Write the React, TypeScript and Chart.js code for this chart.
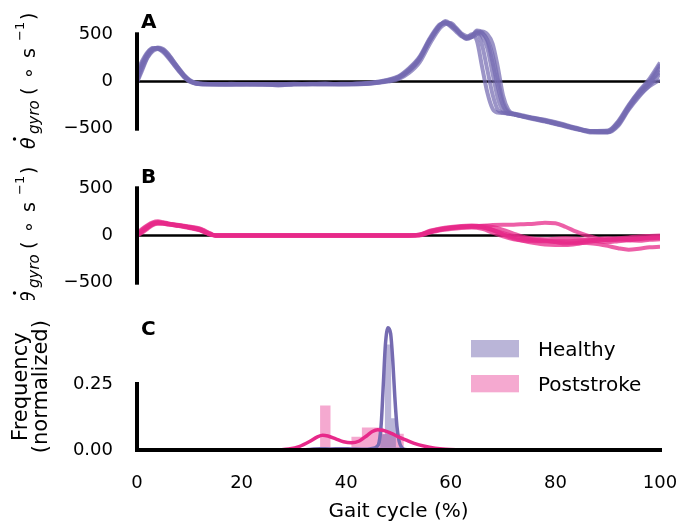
import React, { useEffect, useRef } from 'react';
import { Chart, registerables } from 'chart.js';

Chart.register(...registerables);

const SANS = "'DejaVu Sans', sans-serif";
Chart.defaults.font.family = SANS;
Chart.defaults.color = '#000';

// ---------------- DATA ----------------
// Panel A: healthy gyro traces (deg/s) vs gait cycle (%)
const gaitGridA = [0, 1, 2, 3, 4, 5, 6, 7, 8, 9, 10, 11, 12, 15, 18, 21, 24, 27, 30, 33, 36, 39, 42, 45, 48, 50, 52, 54, 56, 58, 59, 60, 61, 62, 63, 64, 65, 66, 67, 68, 69, 70, 71, 72, 75, 78, 81, 84, 87, 90, 92, 94, 96, 98, 100];
const healthyStride1 = [30, 170, 280, 340, 355, 330, 270, 200, 130, 60, 10, -15, -25, -30, -28, -30, -28, -38, -28, -25, -25, -28, -25, -15, 5, 35, 110, 230, 440, 600, 630, 600, 550, 490, 450, 470, 520, 480, 350, 80, -180, -310, -340, -345, -385, -420, -455, -495, -530, -535, -440, -270, -120, -10, 150];
const healthyStride2 = [0, 140, 260, 330, 360, 345, 290, 215, 140, 70, 20, -10, -22, -28, -35, -26, -30, -30, -26, -30, -28, -25, -22, -10, 20, 55, 140, 260, 460, 610, 620, 580, 530, 480, 470, 500, 430, 150, -120, -290, -330, -335, -340, -350, -380, -410, -450, -500, -525, -520, -420, -250, -100, 30, 200];
const healthyStride3 = [60, 200, 300, 350, 345, 310, 250, 180, 110, 45, 0, -20, -28, -32, -25, -30, -35, -30, -30, -28, -22, -30, -28, -20, 0, 25, 90, 200, 400, 570, 610, 620, 570, 510, 480, 470, 500, 530, 500, 400, 150, -150, -300, -345, -380, -415, -460, -500, -540, -540, -470, -300, -160, -40, 80];
const healthyStride4 = [100, 220, 310, 355, 350, 320, 260, 185, 115, 50, 5, -18, -25, -30, -30, -28, -26, -42, -30, -26, -30, -26, -30, -18, 10, 45, 120, 240, 430, 590, 640, 610, 560, 500, 460, 480, 540, 520, 430, 200, -60, -260, -330, -340, -375, -405, -445, -490, -525, -525, -430, -260, -110, 10, 180];
const healthyStride5 = [-10, 120, 250, 320, 345, 335, 285, 210, 135, 65, 15, -12, -24, -26, -30, -32, -28, -30, -25, -30, -26, -30, -26, -12, 15, 50, 130, 250, 450, 600, 615, 590, 545, 495, 465, 490, 510, 380, 120, -140, -300, -330, -338, -348, -390, -425, -465, -505, -530, -530, -450, -280, -130, -20, 110];
const healthyStride6 = [40, 180, 290, 345, 355, 325, 265, 195, 125, 58, 8, -16, -26, -30, -28, -30, -30, -32, -30, -27, -28, -28, -24, -15, 8, 40, 115, 235, 435, 595, 625, 605, 555, 500, 455, 475, 530, 510, 440, 280, 20, -220, -320, -342, -382, -418, -458, -498, -535, -538, -460, -290, -150, -50, 20];

// Panel B: poststroke gyro traces (deg/s)
const gaitGridB = [0, 1, 2, 3, 4, 5, 6, 8, 10, 12, 13, 14, 15, 20, 30, 40, 48, 52, 54, 56, 58, 60, 62, 64, 66, 68, 70, 72, 74, 76, 78, 80, 82, 84, 86, 88, 90, 92, 94, 96, 98, 100];
const strokeStride1 = [0, 40, 80, 120, 135, 130, 120, 105, 85, 60, 35, 12, 0, 0, 0, 0, 0, 0, 5, 40, 65, 80, 90, 95, 100, 110, 115, 115, 120, 125, 135, 130, 90, 40, 0, -30, -50, -45, -40, -35, -30, -25];
const strokeStride2 = [10, 60, 100, 130, 140, 135, 125, 110, 90, 70, 45, 20, 0, 0, 0, 0, 0, 0, 10, 50, 75, 90, 100, 105, 95, 60, 10, -30, -60, -80, -95, -100, -100, -90, -70, -55, -45, -40, -35, -30, -28, -25];
const strokeStride3 = [-5, 30, 70, 110, 125, 125, 115, 100, 80, 55, 30, 8, 0, 0, 0, 0, 0, 0, 0, 30, 55, 70, 80, 85, 70, 30, -10, -40, -55, -60, -60, -65, -70, -75, -80, -90, -110, -135, -150, -140, -125, -120];
const strokeStride4 = [20, 70, 110, 140, 150, 140, 128, 112, 95, 75, 50, 22, 0, 0, 0, 0, 0, 0, 8, 45, 70, 85, 95, 100, 90, 55, 15, -20, -40, -50, -55, -60, -60, -55, -50, -45, -40, -30, -20, -10, -5, 0];
const strokeStride5 = [0, 50, 90, 125, 138, 132, 122, 106, 88, 62, 38, 15, 0, 0, 0, 0, 0, 0, 3, 35, 60, 78, 88, 92, 85, 60, 25, -5, -30, -45, -55, -70, -85, -80, -60, -40, -30, -35, -50, -55, -45, -40];
const strokeStride6 = [5, 45, 85, 118, 130, 128, 118, 102, 84, 60, 36, 14, 0, 0, 0, 0, 0, 0, 5, 38, 62, 80, 92, 98, 102, 90, 60, 20, -15, -35, -40, -35, -30, -35, -45, -60, -70, -60, -50, -40, -20, -10];

// Panel C: histograms (bin edges + heights) and density curves
const healthyBinEdges = [35, 37, 39, 41, 43, 45, 46.5, 47.4, 48.6, 49.5, 51];
const healthyBinHeights = [0.005, 0.002, 0.005, 0.002, 0.004, 0.01, 0.06, 0.4, 0.12, 0.01];
const strokeBinEdges = [35, 37, 39, 41, 43, 45, 47, 49, 51, 53, 55, 57, 59, 61, 63];
const strokeBinHeights = [0.169, 0.003, 0.004, 0.05, 0.085, 0.085, 0.062, 0.062, 0.003, 0, 0, 0, 0.004, 0.004];
const healthyKdeX = [30, 33, 35, 37, 39, 41, 43, 44, 45, 45.8, 46.3, 46.7, 47.1, 47.5, 48.0, 48.5, 48.9, 49.3, 49.7, 50.1, 50.6, 51.2, 52.5];
const healthyKdeY = [0, 0.002, 0.005, 0.004, 0.005, 0.004, 0.003, 0.003, 0.006, 0.012, 0.03, 0.1, 0.25, 0.4, 0.463, 0.44, 0.34, 0.2, 0.09, 0.035, 0.01, 0.002, 0];
const strokeKdeX = [27, 29, 31, 33, 34.5, 35.5, 36.5, 38, 39.5, 41, 42.5, 44, 45, 46, 47, 48.5, 50, 51.5, 53, 55, 57, 59, 62];
const strokeKdeY = [0, 0.004, 0.013, 0.032, 0.05, 0.056, 0.053, 0.042, 0.031, 0.027, 0.034, 0.055, 0.07, 0.077, 0.075, 0.064, 0.05, 0.037, 0.025, 0.014, 0.007, 0.003, 0];

const gyroTicks = [-500, 0, 500];
const freqTicks = [0, 0.25];
const gaitTicks = [0, 20, 40, 60, 80, 100];
const legendLabels = ['Healthy', 'Poststroke'];

// ---------------- STYLE ----------------
const PURPLE = '#756bb1';
const PURPLE_TRACE = 'rgba(117,107,177,0.72)';
const PURPLE_FILL = 'rgba(117,107,177,0.5)';
const PINK = '#e7298a';
const PINK_TRACE = 'rgba(231,41,138,0.75)';
const PINK_FILL = 'rgba(231,41,138,0.4)';

const toPoints = (xs: number[], ys: number[]) => xs.map((x, i) => ({ x, y: ys[i] }));
const toSteps = (edges: number[], heights: number[]) =>
  edges.map((x, i) => ({ x, y: heights[Math.min(i, heights.length - 1)] }));
const fmtTick = (v: number) => (v < 0 ? '\u2212' + Math.abs(v) : String(v));

function drawGyroTitle(ctx: CanvasRenderingContext2D, baseX: number, centerY: number) {
  ctx.save();
  ctx.translate(baseX, centerY);
  ctx.rotate(-Math.PI / 2);
  ctx.fillStyle = '#000';
  ctx.textAlign = 'left';
  ctx.textBaseline = 'alphabetic';
  const start = -69.5;
  const pieces = [
    { t: '\u03b8', x: 0, f: `italic 19px ${SANS}`, dy: 0 },
    { t: 'gyro', x: 15, f: `italic 15px ${SANS}`, dy: 4 },
    { t: '(', x: 54, f: `19px ${SANS}`, dy: 0 },
    { t: '\u2218', x: 70, f: `19px ${SANS}`, dy: 0 },
    { t: 's', x: 91, f: `19px ${SANS}`, dy: 0 },
    { t: '\u22121', x: 108, f: `13px ${SANS}`, dy: -11 },
    { t: ')', x: 129, f: `19px ${SANS}`, dy: 0 },
  ];
  for (const p of pieces) {
    ctx.font = p.f;
    ctx.fillText(p.t, start + p.x, p.dy);
  }
  ctx.beginPath();
  ctx.arc(start + 10, -20.5, 1.7, 0, Math.PI * 2);
  ctx.fill();
  ctx.restore();
}

const decorPlugin = {
  id: 'decor',
  afterDatasetsDraw(chart: any, _args: any, opts: any) {
    const { ctx } = chart;
    const xs = chart.scales.x;
    const ys = chart.scales.y;
    ctx.save();
    ctx.strokeStyle = '#000';
    ctx.lineWidth = 4;
    ctx.lineCap = 'square';
    const x0 = xs.getPixelForValue(0);
    ctx.beginPath();
    ctx.moveTo(x0, ys.getPixelForValue(opts.spineTop));
    ctx.lineTo(x0, ys.getPixelForValue(opts.spineBottom));
    ctx.stroke();
    if (opts.baseline) {
      const y0 = ys.getPixelForValue(0);
      ctx.beginPath();
      ctx.moveTo(xs.getPixelForValue(0), y0);
      ctx.lineTo(xs.getPixelForValue(100), y0);
      ctx.stroke();
    }
    ctx.fillStyle = '#000';
    ctx.font = `bold 20px ${SANS}`;
    ctx.textAlign = 'left';
    ctx.textBaseline = 'alphabetic';
    ctx.fillText(opts.letter, 141, opts.letterY);
    if (opts.gyroTitle) drawGyroTitle(ctx, 35, ys.getPixelForValue(0) - 2);
    if (opts.legend) {
      const items = chart.data.datasets.filter((d: any) => legendLabels.includes(d.label));
      items.forEach((d: any, i: number) => {
        const top = 40 + i * 35;
        ctx.fillStyle = d.backgroundColor;
        ctx.fillRect(471, top, 48, 17.3);
        ctx.fillStyle = '#000';
        ctx.font = `20px ${SANS}`;
        ctx.textBaseline = 'middle';
        ctx.fillText(d.label, 538, top + 10.7);
      });
    }
    ctx.restore();
  },
};

function traceSet(grid: number[], traces: number[][], color: string, name: string) {
  return traces.map((t, i) => ({
    label: `${name} ${i + 1}`,
    data: toPoints(grid, t),
    borderColor: color,
    borderWidth: 4,
    pointRadius: 0,
    cubicInterpolationMode: 'monotone',
    fill: false,
    order: 0,
  }));
}

function zeroLine() {
  return {
    label: 'zero',
    data: [{ x: 0, y: 0 }, { x: 100, y: 0 }],
    borderColor: '#000',
    borderWidth: 2.5,
    pointRadius: 0,
    fill: false,
    order: 5,
  };
}

function yScale(min: number, max: number, ticks: number[], fmt: (v: number) => string, title?: any) {
  return {
    type: 'linear',
    min,
    max,
    grid: { display: false, drawTicks: false },
    border: { display: false },
    ticks: { font: { size: 18 }, padding: 24, callback: (v: any) => fmt(Number(v)), autoSkip: false },
    afterBuildTicks: (s: any) => {
      s.ticks = ticks.map((v) => ({ value: v }));
    },
    afterFit: (s: any) => {
      s.width = 137;
      s.paddingTop = 0;
      s.paddingBottom = 0;
    },
    title: title || { display: false },
  };
}

function gyroConfig(datasets: any[], padTop: number, padBottom: number, letter: string, letterY: number): any {
  return {
    type: 'line',
    data: { datasets },
    options: {
      responsive: false,
      devicePixelRatio: 1,
      animation: false,
      layout: { padding: { left: 0, right: 32, top: padTop, bottom: padBottom } },
      plugins: {
        legend: { display: false },
        tooltip: { enabled: false },
        decor: { spineTop: 500, spineBottom: -500, baseline: false, letter, letterY, gyroTitle: true, legend: false },
      },
      scales: {
        x: { type: 'linear', min: 0, max: 100, display: false },
        y: yScale(-600, 700, gyroTicks, fmtTick),
      },
    },
    plugins: [decorPlugin],
  };
}

function freqConfig(): any {
  const datasets = [
    {
      label: 'Poststroke density',
      data: toPoints(strokeKdeX, strokeKdeY),
      borderColor: PINK,
      borderWidth: 3.5,
      pointRadius: 0,
      cubicInterpolationMode: 'monotone',
      fill: false,
      order: 0,
    },
    {
      label: 'Healthy density',
      data: toPoints(healthyKdeX, healthyKdeY),
      borderColor: PURPLE,
      borderWidth: 3.5,
      pointRadius: 0,
      cubicInterpolationMode: 'monotone',
      fill: false,
      order: 1,
    },
    {
      label: 'Healthy',
      data: toSteps(healthyBinEdges, healthyBinHeights),
      stepped: 'before',
      borderColor: 'rgba(0,0,0,0)',
      borderWidth: 0,
      backgroundColor: PURPLE_FILL,
      pointRadius: 0,
      fill: 'origin',
      order: 2,
    },
    {
      label: 'Poststroke',
      data: toSteps(strokeBinEdges, strokeBinHeights),
      stepped: 'before',
      borderColor: 'rgba(0,0,0,0)',
      borderWidth: 0,
      backgroundColor: PINK_FILL,
      pointRadius: 0,
      fill: 'origin',
      order: 3,
    },
  ];
  return {
    type: 'line',
    data: { datasets },
    options: {
      responsive: false,
      devicePixelRatio: 1,
      animation: false,
      layout: { padding: { left: 0, right: 32, top: 18, bottom: 0 } },
      plugins: {
        legend: { display: false },
        tooltip: { enabled: false },
        decor: { spineTop: 0.25, spineBottom: 0, baseline: true, letter: 'C', letterY: 35, gyroTitle: false, legend: true },
      },
      scales: {
        x: {
          type: 'linear',
          min: 0,
          max: 100,
          grid: { display: false, drawTicks: false },
          border: { display: false },
          ticks: { font: { size: 18 }, padding: 17, autoSkip: false, maxRotation: 0 },
          afterBuildTicks: (s: any) => {
            s.ticks = gaitTicks.map((v) => ({ value: v }));
          },
          afterFit: (s: any) => {
            s.height = 73.72;
            s.paddingLeft = 0;
            s.paddingRight = 0;
          },
          title: { display: true, text: 'Gait cycle (%)', font: { size: 20, lineHeight: 1.2 }, padding: { top: 0, bottom: 5.5 } },
        },
        y: yScale(-0.02, 0.5, freqTicks, (v) => v.toFixed(2), {
          display: true,
          text: ['Frequency', '(normalized)'],
          font: { size: 21, lineHeight: 0.95 },
          padding: { top: 12, bottom: 0 },
        }),
      },
    },
    plugins: [decorPlugin],
  };
}

export default function App() {
  const refA = useRef<HTMLCanvasElement>(null);
  const refB = useRef<HTMLCanvasElement>(null);
  const refC = useRef<HTMLCanvasElement>(null);

  useEffect(() => {
    const dsA = [
      ...traceSet(gaitGridA, [healthyStride1, healthyStride2, healthyStride3, healthyStride4, healthyStride5, healthyStride6], PURPLE_TRACE, 'Healthy stride'),
      zeroLine(),
    ];
    const dsB = [
      ...traceSet(gaitGridB, [strokeStride1, strokeStride2, strokeStride3, strokeStride4, strokeStride5, strokeStride6], PINK_TRACE, 'Poststroke stride'),
      zeroLine(),
    ];
    const charts = [
      new Chart(refA.current as HTMLCanvasElement, gyroConfig(dsA, 15.42, 11.86, 'A', 28)),
      new Chart(refB.current as HTMLCanvasElement, gyroConfig(dsB, 19.42, 7.86, 'B', 33)),
      new Chart(refC.current as HTMLCanvasElement, freqConfig()),
    ];
    return () => charts.forEach((c) => c.destroy());
  }, []);

  return (
    <div style={{ position: 'absolute', left: 0, top: 0, width: 692, height: 529, background: '#fff' }}>
      <canvas ref={refA} width={692} height={150} style={{ position: 'absolute', left: 0, top: 0 }} />
      <canvas ref={refB} width={692} height={150} style={{ position: 'absolute', left: 0, top: 150 }} />
      <canvas ref={refC} width={692} height={229} style={{ position: 'absolute', left: 0, top: 300 }} />
    </div>
  );
}
